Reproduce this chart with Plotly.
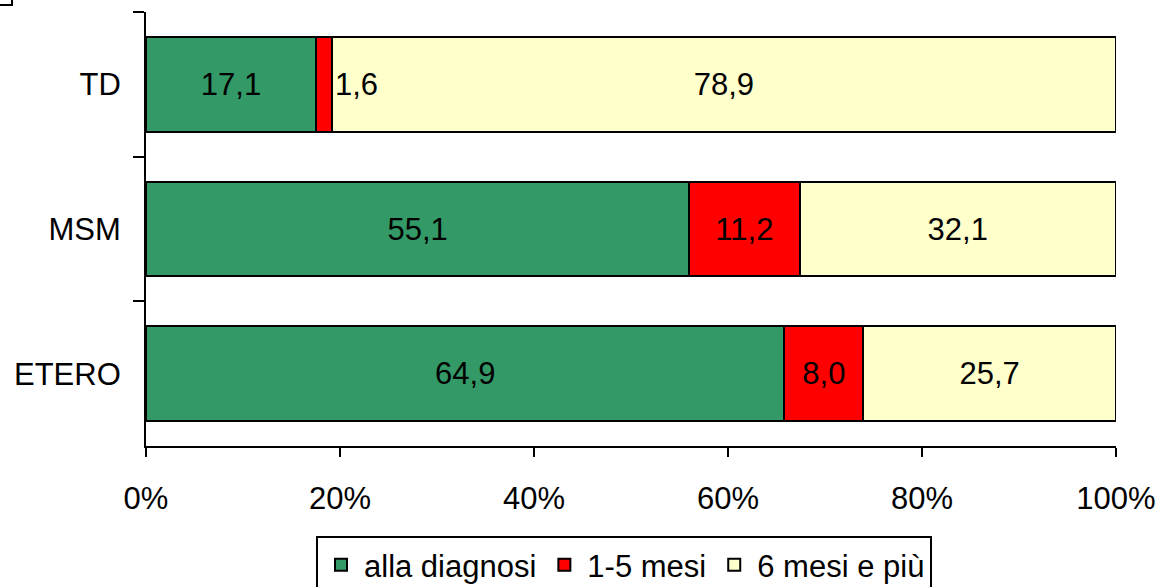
import plotly.graph_objects as go

categories = ["TD", "MSM", "ETERO"]
series_names = ["alla diagnosi", "1-5 mesi", "6 mesi e più"]
alla_diagnosi = [17.1, 55.1, 64.9]
mesi_1_5 = [1.6, 11.2, 8.0]
mesi_6_piu = [78.9, 32.1, 25.7]
x_ticks = [0, 20, 40, 60, 80, 100]
x_tick_labels = ["0%", "20%", "40%", "60%", "80%", "100%"]

colors = ["#339966", "#FF0000", "#FFFFCC"]
series = [alla_diagnosi, mesi_1_5, mesi_6_piu]

FONT = "Liberation Sans, Arial, sans-serif"

def fmt(v):
    return f"{v:.1f}".replace(".", ",")

# Small segments whose label doesn't fit are labelled beside the bar
small = {(1, 0)}

fig = go.Figure()
for si, (name, vals, col) in enumerate(zip(series_names, series, colors)):
    texts = ["" if (si, ci) in small else fmt(v) for ci, v in enumerate(vals)]
    fig.add_trace(go.Bar(
        y=categories, x=vals, name=name, orientation="h",
        marker=dict(color=col, line=dict(color="black", width=2)),
        text=texts, textposition="inside", insidetextanchor="middle",
        textfont=dict(family=FONT, size=31, color="black"),
        constraintext="none", hoverinfo="skip",
    ))

for (si, ci) in small:
    total = sum(s[ci] for s in series)
    cum = sum(series[k][ci] for k in range(si + 1))
    fig.add_annotation(
        x=cum / total * 100, y=categories[ci], xref="x", yref="y",
        text=fmt(series[si][ci]), showarrow=False, xanchor="left", xshift=1,
        font=dict(family=FONT, size=31, color="black"),
    )

# fragment of outer frame at the top-left corner
fig.add_shape(type="rect", xref="paper", yref="paper",
              x0=(-40 - 146) / 970, x1=(12 - 146) / 970,
              y0=(446 - 5) / 434, y1=(446 + 40) / 434,
              line=dict(color="black", width=2), fillcolor="rgba(0,0,0,0)")

fig.update_layout(
    barmode="stack", barnorm="percent", bargap=0.345,
    width=1166, height=587,
    margin=dict(l=146, r=50, t=12, b=141, autoexpand=False),
    plot_bgcolor="white", paper_bgcolor="white",
    font=dict(family=FONT, size=31, color="black"),
    showlegend=True,
    legend=dict(
        orientation="h", x=(624 - 146) / 970, xanchor="center",
        y=(446 - 536) / 434, yanchor="top",
        font=dict(family=FONT, size=31, color="black"),
        bordercolor="black", borderwidth=2, bgcolor="white",
        traceorder="normal", itemwidth=36, valign="middle",
    ),
    xaxis=dict(
        range=[0, 100], tickvals=x_ticks, ticktext=x_tick_labels,
        showgrid=False, zeroline=False, showline=True, linecolor="black", linewidth=2,
        ticks="outside", ticklen=9, tickwidth=2, tickcolor="black", automargin=False,
        ticklabelstandoff=15, tickfont=dict(family=FONT, size=31),
    ),
    yaxis=dict(
        range=[2.5, -0.5], showgrid=False, zeroline=False, showline=True,
        linecolor="black", linewidth=2, ticks="outside", tickson="boundaries",
        ticklen=11, tickwidth=2, tickcolor="black", automargin=False,
        ticklabelstandoff=17, tickfont=dict(family=FONT, size=31),
    ),
)

fig.write_html("out.html", config={"displayModeBar": False},
               post_script="document.body.style.margin='0';")
